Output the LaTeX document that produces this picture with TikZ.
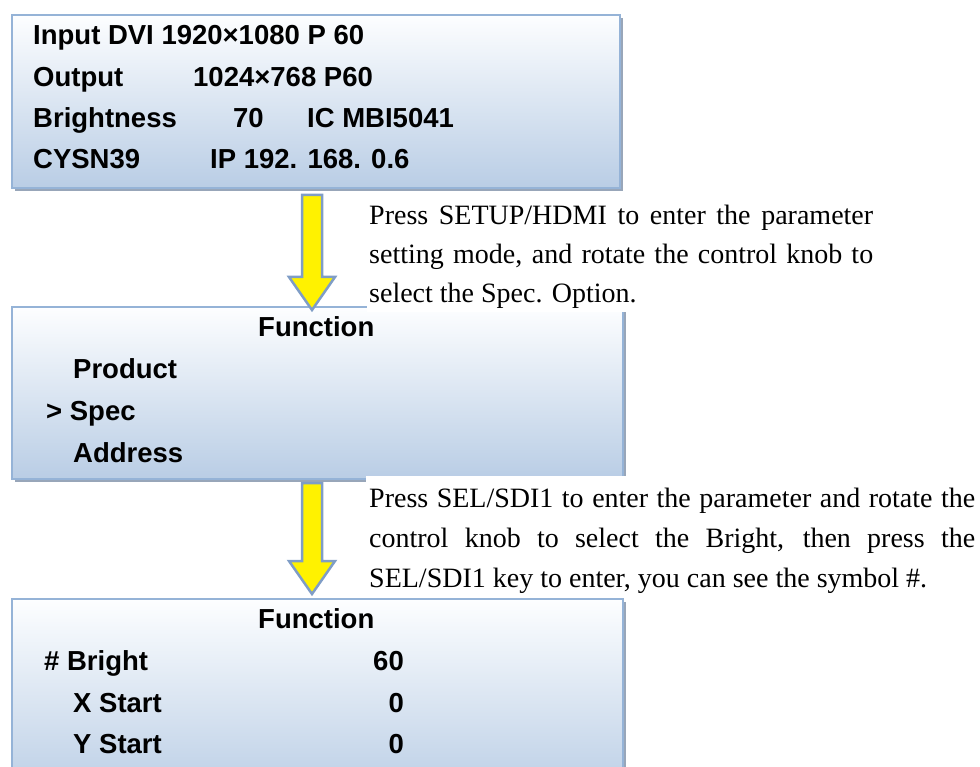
\documentclass[tikz,border=0pt]{standalone}
\usepackage{fontspec}
\setmainfont{Liberation Serif}
\newfontfamily\panelfont{Liberation Sans}
\usetikzlibrary{shadows}

\definecolor{panelline}{HTML}{95B3D7}
\definecolor{paneltop}{HTML}{FDFEFF}
\definecolor{panelbottom}{HTML}{B9CDE5}
\definecolor{panelshadow}{HTML}{98A6B9}
\definecolor{arrowline}{HTML}{7F9DC6}

\tikzset{
  panel/.style={rectangle, anchor=north west, inner sep=0pt, draw=panelline,
    line width=2pt, top color=paneltop, bottom color=panelbottom,
    drop shadow={shadow xshift=3pt, shadow yshift=-3pt, fill=panelshadow, opacity=1}},
  backing/.style={rectangle, anchor=north west, inner sep=0pt, fill=white},
  lcd/.style={anchor=base west, inner sep=0pt,
    font=\panelfont\bfseries\fontsize{27.5}{33}\selectfont},
  lcdnum/.style={lcd, anchor=base east},
  note/.style={anchor=base west, inner sep=0pt, font=\fontsize{28}{39}\selectfont},
  flow/.style={draw=arrowline, line width=2.5pt, fill=yellow, line join=miter}
}

% block arrow pointing down, drawn from a named top-centre coordinate
% #1 = top coordinate, #2 = shaft length, #3 = head length
\newcommand\downflow[3]{%
  \draw[flow] (#1) ++(-10,0) -- ++(20,0) -- ++(0,#2) -- ++(13,0)
    -- ++(-23,#3) -- ++(-23,-#3) -- ++(13,0) -- cycle;}

\begin{document}
\begin{tikzpicture}[x=1pt,y=-1pt]
\useasboundingbox (0,0) rectangle (980,767);
\clip (0,0) rectangle (980,767);

% display panels
\node[panel, minimum width=608pt, minimum height=173pt] (p1) at (11,14) {};
\node[panel, minimum width=611pt, minimum height=172pt] (p2) at (11,306) {};
\node[panel, minimum width=611pt, minimum height=200pt] (p3) at (11,598) {};

% white backing of the two instruction paragraphs
\node[backing, minimum width=513pt, minimum height=119pt] (n1bg) at (367,193) {};
\node[backing, minimum width=614pt, minimum height=120pt] (n2bg) at (366,476) {};

% arrows between the panels
\coordinate (a1) at (312,195);
\coordinate (a2) at (312,483);
\downflow{a1}{82}{33}
\downflow{a2}{78}{33}

% panel 1: status screen
\node[lcd] (s1) at (33,45) {Input DVI 1920×1080 P 60};
\node[lcd] (s2a) at (33,87) {Output};
\node[lcd] (s2b) at (193,87) {1024×768 P60};
\node[lcd] (s3a) at (33,128) {Brightness};
\node[lcd] (s3b) at (233,128) {70};
\node[lcd] (s3c) at (307,128) {IC MBI5041};
\node[lcd] (s4a) at (33,169) {CYSN39};
\node[lcd] (s4b) at (210,169) {IP 192. 168. 0.6};

% panel 2: function menu
\node[lcd] (f1) at (258,337) {Function};
\node[lcd] (f2) at (73,378) {Product};
\node[lcd] (f3) at (46,420) {> Spec};
\node[lcd] (f4) at (73,462) {Address};

% panel 3: spec menu
\node[lcd] (g1) at (258,628) {Function};
\node[lcd] (g2) at (44,670) {\# Bright};
\node[lcd] (g3) at (73,712) {X Start};
\node[lcd] (g4) at (73,753) {Y Start};
\node[lcdnum] (g2v) at (404,670) {60};
\node[lcdnum] (g3v) at (404,712) {0};
\node[lcdnum] (g4v) at (404,753) {0};

% instruction paragraphs
\node[note] (t1a) at (369,225) {\makebox[504pt][s]{Press SETUP/HDMI to enter the parameter}};
\node[note] (t1b) at (369,264) {\makebox[504pt][s]{setting mode, and rotate the control knob to}};
\node[note] (t1c) at (369,303) {select the Spec. Option.};

\node[note] (t2a) at (369,507) {\makebox[606pt][s]{Press SEL/SDI1 to enter the parameter and rotate the}};
\node[note] (t2b) at (369,547) {\makebox[606pt][s]{control knob to select the Bright, then press the}};
\node[note] (t2c) at (369,587) {SEL/SDI1 key to enter, you can see the symbol \#.};
\end{tikzpicture}
\end{document}
